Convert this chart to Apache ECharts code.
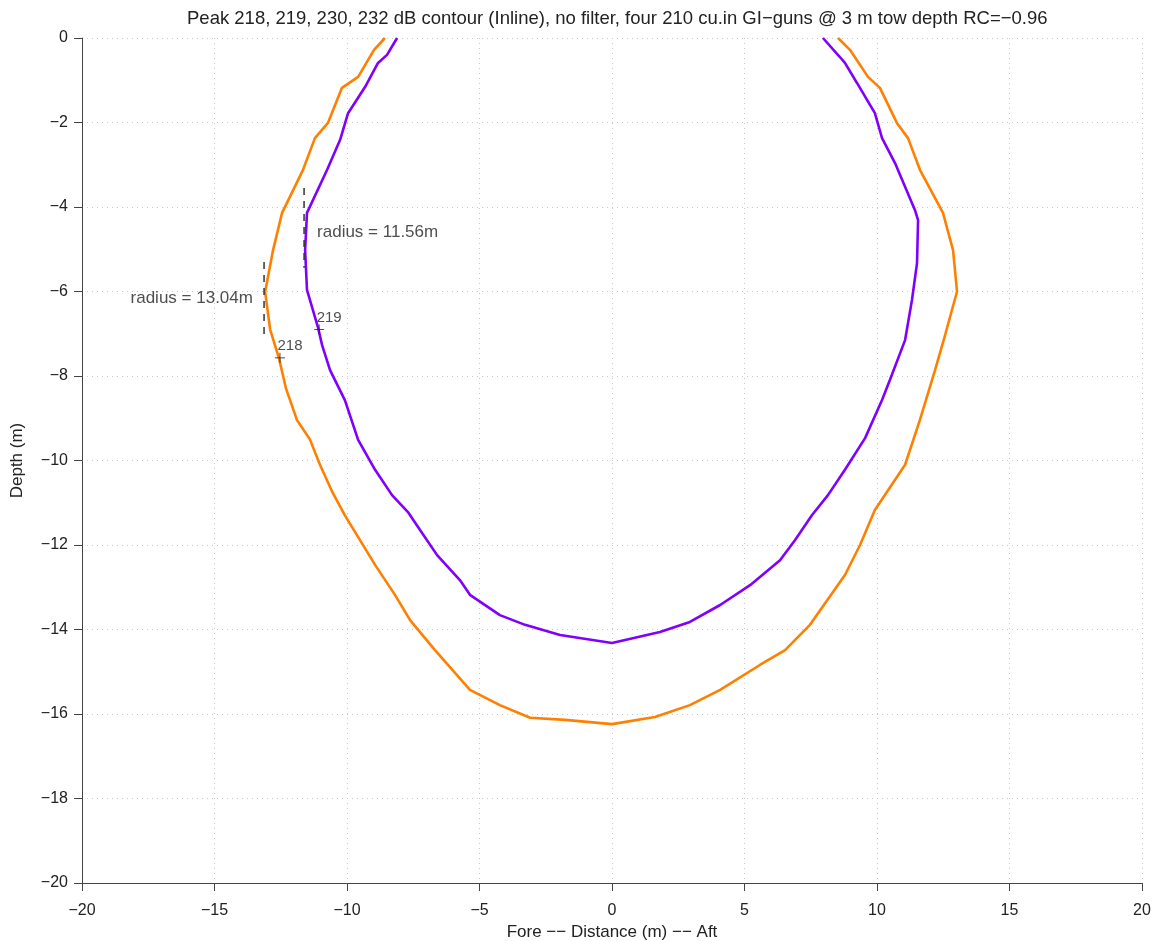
<!DOCTYPE html>
<html><head><meta charset="utf-8">
<script src="https://cdn.jsdelivr.net/npm/echarts@6/dist/echarts.min.js"></script>
<style>html,body{margin:0;padding:0;background:#fff}#c{width:1155px;height:941px}</style>
</head><body><div id="c"></div>
<script>
const titleText = "Peak 218, 219, 230, 232 dB contour (Inline), no filter, four 210 cu.in GI\u2212guns @ 3 m tow depth RC=\u22120.96";
const xLabel = "Fore \u2212\u2212 Distance (m) \u2212\u2212 Aft";
const yLabel = "Depth (m)";
// 218 dB contour (orange): [distance, depth]
const contour218 = [
  [-8.57,0],[-8.98,-0.28],[-9.58,-0.92],[-10.19,-1.18],[-10.72,-2.01],[-11.21,-2.37],[-11.66,-3.12],
  [-12.45,-4.14],[-12.79,-5.02],[-13.09,-6.01],[-12.9,-6.9],[-12.57,-7.57],[-12.3,-8.3],[-11.89,-9.04],
  [-11.4,-9.5],[-11.02,-10.1],[-10.55,-10.75],[-10.08,-11.3],[-8.94,-12.47],[-8.19,-13.18],[-7.62,-13.78],
  [-6.68,-14.49],[-5.36,-15.43],[-4.23,-15.79],[-3.09,-16.09],[-1.77,-16.14],[0,-16.24],
  [1.62,-16.07],[2.94,-15.79],[4.08,-15.43],[5.58,-14.84],[6.53,-14.49],[7.47,-13.89],[8.79,-12.71],
  [9.36,-12.0],[9.92,-11.17],[11.06,-10.1],[11.62,-9.04],[12.19,-7.86],[12.57,-7.03],[13.02,-6.0],
  [12.87,-5.02],[12.49,-4.14],[11.62,-3.12],[11.17,-2.37],[10.75,-2.01],[10.11,-1.18],[9.66,-0.92],
  [8.98,-0.28],[8.53,0]
];
// 219 dB contour (purple)
const contour219 = [
  [-8.11,0],[-8.49,-0.4],[-8.83,-0.59],[-9.32,-1.16],[-9.96,-1.78],[-10.26,-2.41],[-10.75,-3.12],
  [-11.51,-4.14],[-11.58,-5.02],[-11.51,-5.96],[-11.09,-6.86],[-10.94,-7.27],[-10.64,-7.86],[-10.08,-8.57],
  [-9.58,-9.51],[-8.94,-10.22],[-8.3,-10.82],[-7.7,-11.22],[-7.25,-11.64],[-6.6,-12.24],[-5.74,-12.83],
  [-5.36,-13.18],[-4.23,-13.66],[-3.28,-13.89],[-1.96,-14.13],[0,-14.32],
  [1.81,-14.06],[2.94,-13.82],[4.08,-13.42],[5.21,-12.95],[6.34,-12.36],[6.91,-11.88],[7.55,-11.29],
  [8.15,-10.82],[8.79,-10.22],[9.55,-9.47],[10.19,-8.57],[10.49,-8.09],[11.06,-7.15],[11.32,-6.2],
  [11.51,-5.33],[11.55,-4.31],[11.43,-4.07],[10.68,-2.96],[10.19,-2.37],[9.92,-1.78],[9.25,-1.07],
  [8.79,-0.59],[8.6,-0.45],[7.96,0]
];
const radius219Line = [[-11.62,-3.55],[-11.62,-5.44]];
const radius218Line = [[-13.13,-5.3],[-13.13,-7.1]];
const radius219Text = "radius = 11.56m";
const radius218Text = "radius = 13.04m";
const radius219Pos = [-11.13,-4.59];
const radius218Pos = [-13.55,-6.15];
const markers = [{label:"219", pt:[-11.05,-6.9]},{label:"218", pt:[-12.53,-7.57]}];
const xTicks = {min:-20,max:20,interval:5};
const yTicks = {min:-20,max:0,interval:2};

const minus = v => String(v).replace('-', '\u2212');
const plusPath = 'path://M5,0 L5,10 M0,5 L10,5';
const chart = echarts.init(document.getElementById('c'), null, {renderer:'canvas'});
const font = 'Liberation Sans';
const txt = '#222';
chart.setOption({
  animation:false,
  title:{text:titleText,left:182,top:4,textStyle:{fontFamily:font,fontSize:18.5,fontWeight:'normal',color:txt}},
  grid:{left:82,right:13,top:38,bottom:58,containLabel:false,outerBoundsMode:'none'},
  xAxis:{type:'value',min:xTicks.min,max:xTicks.max,interval:xTicks.interval,
    name:xLabel,nameLocation:'middle',nameGap:39,nameTextStyle:{fontFamily:font,fontSize:17,color:txt},
    axisLine:{show:true,onZero:false,lineStyle:{color:'#444',width:1}},
    axisTick:{show:true,inside:false,length:8,lineStyle:{color:'#444'}},
    axisLabel:{fontFamily:font,fontSize:16,color:txt,margin:20,formatter:minus},
    splitLine:{show:true,lineStyle:{color:'#c8c8c8',type:[1,4],width:1}}},
  yAxis:{type:'value',min:yTicks.min,max:yTicks.max,interval:yTicks.interval,
    name:yLabel,nameLocation:'middle',nameGap:56,nameRotate:90,nameTextStyle:{fontFamily:font,fontSize:17,color:txt},
    axisLine:{show:true,onZero:false,lineStyle:{color:'#444',width:1}},
    axisTick:{show:true,inside:false,length:8,lineStyle:{color:'#444'}},
    axisLabel:{fontFamily:font,fontSize:16,color:txt,margin:14,formatter:minus},
    splitLine:{show:true,lineStyle:{color:'#c8c8c8',type:[1,4],width:1}}},
  series:[
    {type:'line',data:contour218,showSymbol:false,symbol:'none',lineStyle:{color:'#FF8000',width:2.6},z:3},
    {type:'line',data:contour219,showSymbol:false,symbol:'none',lineStyle:{color:'#8000FF',width:2.6},z:3},
    {type:'line',data:radius219Line,symbol:'none',lineStyle:{color:'#333',width:1.5,type:[7,6]},z:4},
    {type:'line',data:radius218Line,symbol:'none',lineStyle:{color:'#333',width:1.5,type:[7,6]},z:4},
    {type:'scatter',data:[radius219Pos],symbolSize:0,z:5,
      label:{show:true,position:'right',distance:0,formatter:radius219Text,fontFamily:font,fontSize:17,color:txt}},
    {type:'scatter',data:[radius218Pos],symbolSize:0,z:5,
      label:{show:true,position:'left',distance:0,formatter:radius218Text,fontFamily:font,fontSize:17,color:txt}},
    {type:'scatter',data:markers.map(m=>({value:m.pt,name:m.label})),symbol:plusPath,symbolSize:10,
      itemStyle:{color:'none',borderColor:'#222',borderWidth:1},z:6,
      label:{show:true,position:[5,-12],formatter:p=>p.name,fontFamily:font,fontSize:15,color:txt}}
  ]
});
</script></body></html>
